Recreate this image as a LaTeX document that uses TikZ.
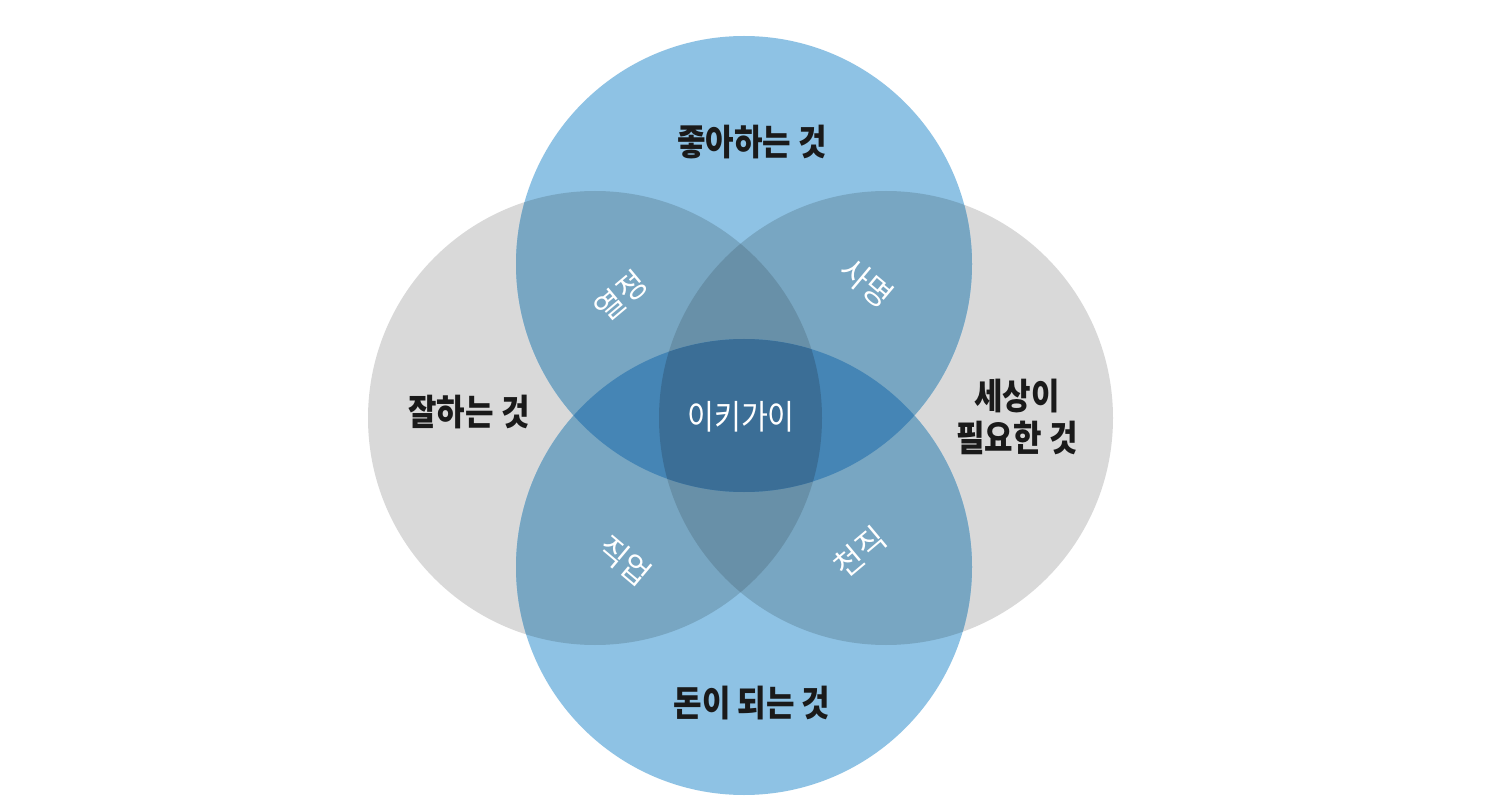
\documentclass[tikz,border=0pt]{standalone}
\usepackage{fontspec}
\newfontfamily\kr{Noto Sans CJK KR}
\definecolor{grayc}{HTML}{D9D9D9}
\definecolor{bluec}{HTML}{8EC2E4}
\definecolor{bgc}{HTML}{78A6C2}
\definecolor{bggc}{HTML}{6890A8}
\definecolor{bbc}{HTML}{4585B5}
\definecolor{allc}{HTML}{3B6E96}
\definecolor{darkc}{HTML}{1A1A1A}
\tikzset{
  outer/.style={font=\kr\bfseries\fontsize{36}{42}\selectfont, text=darkc, inner sep=0pt, xscale=0.86, align=center},
  inner/.style={font=\kr\fontsize{34}{40}\selectfont, text=white, inner sep=0pt, xscale=0.86},
  tilted/.style={font=\kr\fontsize{31}{36}\selectfont, text=white, inner sep=0pt},
}
\begin{document}
\begin{tikzpicture}[x=1pt,y=-1pt]
\useasboundingbox (0,0) rectangle (1492,810);
\fill[white] (0,0) rectangle (1492,810);
\coordinate (T) at (744,264);
\coordinate (B) at (744,567);
\coordinate (L) at (595,418);
\coordinate (R) at (886,418);
\def\rb{228pt}
\def\rg{227pt}
% base circles
\fill[grayc] (L) circle[radius=\rg];
\fill[grayc] (R) circle[radius=\rg];
\fill[bluec] (T) circle[radius=\rb];
\fill[bluec] (B) circle[radius=\rb];
% blue over gray
\begin{scope}
  \clip (T) circle[radius=\rb];
  \fill[bgc] (L) circle[radius=\rg];
  \fill[bgc] (R) circle[radius=\rg];
  \begin{scope}
    \clip (L) circle[radius=\rg];
    \fill[bggc] (R) circle[radius=\rg];
  \end{scope}
\end{scope}
\begin{scope}
  \clip (B) circle[radius=\rb];
  \fill[bgc] (L) circle[radius=\rg];
  \fill[bgc] (R) circle[radius=\rg];
  \begin{scope}
    \clip (L) circle[radius=\rg];
    \fill[bggc] (R) circle[radius=\rg];
  \end{scope}
\end{scope}
% blue over blue
\begin{scope}
  \clip (T) circle[radius=\rb];
  \fill[bbc] (B) circle[radius=\rb];
  \clip (B) circle[radius=\rb];
  \begin{scope}
    \clip (L) circle[radius=\rg];
    \fill[allc] (R) circle[radius=\rg];
  \end{scope}
\end{scope}
% labels
\node[outer] (like) at (752,142) {좋아하는 것};
\node[outer] (good) at (469,412) {잘하는 것};
\node[outer] (need) at (1017,417) {세상이\\필요한 것};
\node[outer] (paid) at (752,703) {돈이 되는 것};
\node[inner] (ikigai) at (741,417) {이키가이};
\node[tilted, rotate=40] (passion) at (621,296) {열정};
\node[tilted, rotate=-40] (mission) at (867,283) {사명};
\node[tilted, rotate=-40] (profession) at (625,561) {직업};
\node[tilted, rotate=40] (vocation) at (860,552) {천직};
\end{tikzpicture}
\end{document}
